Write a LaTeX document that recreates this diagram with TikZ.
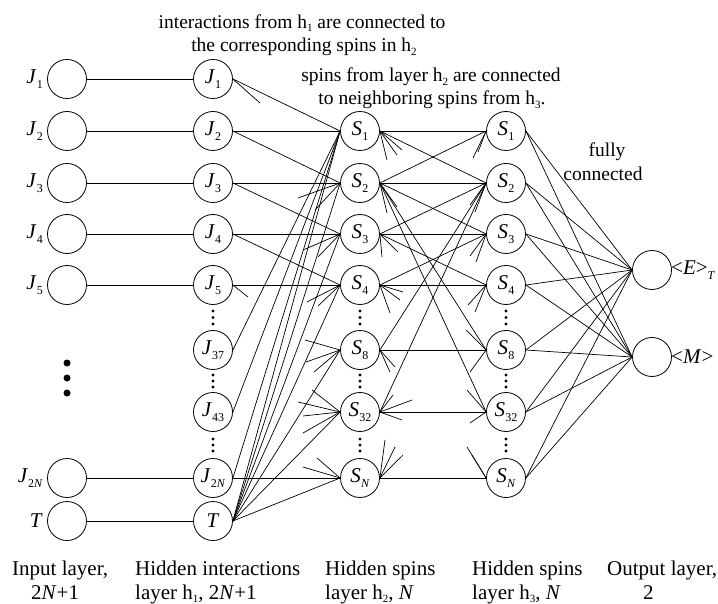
\documentclass[tikz,border=0pt]{standalone}
\usepackage{fontspec}
\setmainfont{Liberation Serif}
\newcommand\sbx[1]{\raisebox{-4.5pt}{\fontsize{12}{12}\selectfont #1}}
\newcommand\var[2]{\textit{#1}\kern0.2pt\sbx{#2}}
\newcommand\hs[1]{h\raisebox{-3.5pt}{\fontsize{11}{11}\selectfont #1}}
\begin{document}
\begin{tikzpicture}[x=1pt,y=-1pt,
  unit/.style={circle,draw,line width=0.8pt,minimum size=39pt,inner sep=0pt,
    font=\fontsize{21}{21}\selectfont},
  wire/.style={line width=0.7pt},
  side/.style={anchor=east,font=\fontsize{21}{21}\selectfont,inner sep=0pt},
  note/.style={font=\fontsize{19.5}{19.5}\selectfont,inner sep=0pt},
  caption/.style={font=\fontsize{21}{21}\selectfont,inner sep=0pt,anchor=base west},
  smalldot/.style={fill,circle,inner sep=0pt,minimum size=3.2pt},
  bigdot/.style={fill,circle,inner sep=0pt,minimum size=7pt}]
\useasboundingbox (0,0) rectangle (718,604);

% ---------- input layer ----------
\foreach \n/\y/\t in {I1/79/\var{J}{1}, I2/131/\var{J}{2}, I3/183/\var{J}{3},
                      I4/234/\var{J}{4}, I5/285/\var{J}{5},
                      I2N/478/\var{J}{2\textit{N}}, IT/521/\textit{T}}{
  \node[unit] (\n) at (67,\y) {};
  \node[side] (\n lab) at (43,\y) {\t};
}
\foreach \y in {363,378,393} \node[bigdot] (bd\y) at (67,\y) {};

% ---------- hidden interactions h1 ----------
\foreach \n/\y/\t in {J1/79/\var{J}{1}, J2/131/\var{J}{2}, J3/183/\var{J}{3},
                      J4/234/\var{J}{4}, J5/285/\var{J}{5}, J37/350/\var{J}{37},
                      J43/412/\var{J}{43}, J2N/478/\var{J}{2\textit{N}}, JT/521/\textit{T}}
  \node[unit] (\n) at (213,\y) {\t};

% ---------- hidden spins h2 and h3 ----------
\foreach \c/\x in {A/360,B/506}{
  \foreach \n/\y/\t in {1/131/\var{S}{1}, 2/183/\var{S}{2}, 3/234/\var{S}{3},
                        4/285/\var{S}{4}, 8/350/\var{S}{8}, 32/412/\var{S}{32},
                        N/478/\var{S}{\textit{N}}}
    \node[unit] (\c\n) at (\x,\y) {\t};
}

% ---------- output layer ----------
\node[unit] (E) at (652,270) {};
\node[unit] (M) at (652,357) {};
\node[anchor=west,inner sep=0pt,font=\fontsize{21}{21}\selectfont] (Elab) at (671,270)
  {<\textit{E}>\sbx{\textit{T}}};
\node[anchor=west,inner sep=0pt,font=\fontsize{21}{21}\selectfont] (Mlab) at (671,357)
  {<\textit{M}>};

% vertical dots between the shown units
\foreach \x in {213,360,506}
  \foreach \y in {311,317.5,324,375,381,387,439,445,451}
    \node[smalldot] at (\x,\y) {};

% ---------- input -> h1 ----------
\foreach \n in {1,2,3,4,5,2N,T} \draw[wire] (I\n.east) -- (J\n.west);

% ---------- h1 -> h2 ----------
\foreach \a/\b in {J1/A1, J2/A1, J2/A2, J3/A2, J3/A3, J4/A3, J4/A4, J5/A4,
                   J37/A1, J43/A1, J2N/A1, J2N/AN,
                   JT/A1, JT/A2, JT/A3, JT/A4, JT/A8, JT/A32, JT/AN}
  \draw[wire] (\a.east) -- (\b.west);

% ---------- h2 -> h3 ----------
\foreach \a/\b in {A1/B1, A2/B2, A3/B3, A4/B4, A8/B8, A32/B32, AN/BN,
                   A1/B2, A2/B1, A2/B3, A3/B2, A3/B4, A4/B3,
                   A2/B8, A2/B32, A8/B2, A32/B2}
  \draw[wire] (\a.east) -- (\b.west);

% ---------- h3 -> output ----------
\foreach \a in {1,2,3,4,8,32,N}{
  \draw[wire] (B\a.east) -- (E.west);
  \draw[wire] (B\a.east) -- (M.west);
}

% ---------- partial links to units not shown ----------
\foreach [count=\k] \p/\x/\y in {
    J1.east/260/103, J5.east/248/297,
    A2.west/298/198, A2.west/315/210, A3.west/303/250, A3.west/318/257,
    A4.west/307/302, A4.west/318/306, A8.west/305/340, A8.west/306/362,
    A8.west/314/372, A32.west/312/390, A32.west/298/402, A32.west/303/416,
    A32.west/303/433, AN.west/303/467, AN.west/317/458,
    A1.east/387/160, A1.east/397/155, A1.east/402/150,
    A2.east/387/213, A2.east/397/207, A3.east/382/257, A3.east/398/252,
    A4.east/403/292, A4.east/400/300, A4.east/390/313,
    A8.east/395/367, A8.east/390/372,
    A32.east/412/400, A32.east/402/420, A32.east/393/395,
    AN.east/385/440, AN.east/395/447, AN.east/403/455,
    B1.west/473/158, B1.west/478/152, B2.west/470/205, B2.west/475/212,
    B3.west/470/256, B3.west/476/262, B4.west/468/305, B4.west/475/312,
    B8.west/466/330, B8.west/470/372, B32.west/467/390, B32.west/470/423,
    BN.west/467/447, BN.west/472/455}{
  \coordinate (stub\k) at (\x,\y);
  \draw[wire] (\p) -- (stub\k);
}

% ---------- annotations ----------
\node[note] (t1) at (302,23) {interactions from \hs{1} are connected to};
\node[note] (t2) at (304,47) {the corresponding spins in \hs{2}};
\node[note] (t3) at (431,77) {spins from layer \hs{2} are connected};
\node[note] (t4) at (432,100) {to neighboring spins from \hs{3}.};
\node[note] (t5) at (607,152) {fully};
\node[note] (t6) at (603,174) {connected};

% ---------- layer captions ----------
\node[caption] (c1a) at (12,575) {Input layer,};
\node[caption] (c1b) at (31,599) {2\textit{N}+1};
\node[caption] (c2a) at (135,575) {Hidden interactions};
\node[caption] (c2b) at (135,599) {layer \hs{1}, 2\textit{N}+1};
\node[caption] (c3a) at (325,575) {Hidden spins};
\node[caption] (c3b) at (325,599) {layer \hs{2}, \textit{N}};
\node[caption] (c4a) at (472,575) {Hidden spins};
\node[caption] (c4b) at (472,599) {layer \hs{3}, \textit{N}};
\node[caption] (c5a) at (607,575) {Output layer,};
\node[caption] (c5b) at (643,599) {2};
\end{tikzpicture}
\end{document}
